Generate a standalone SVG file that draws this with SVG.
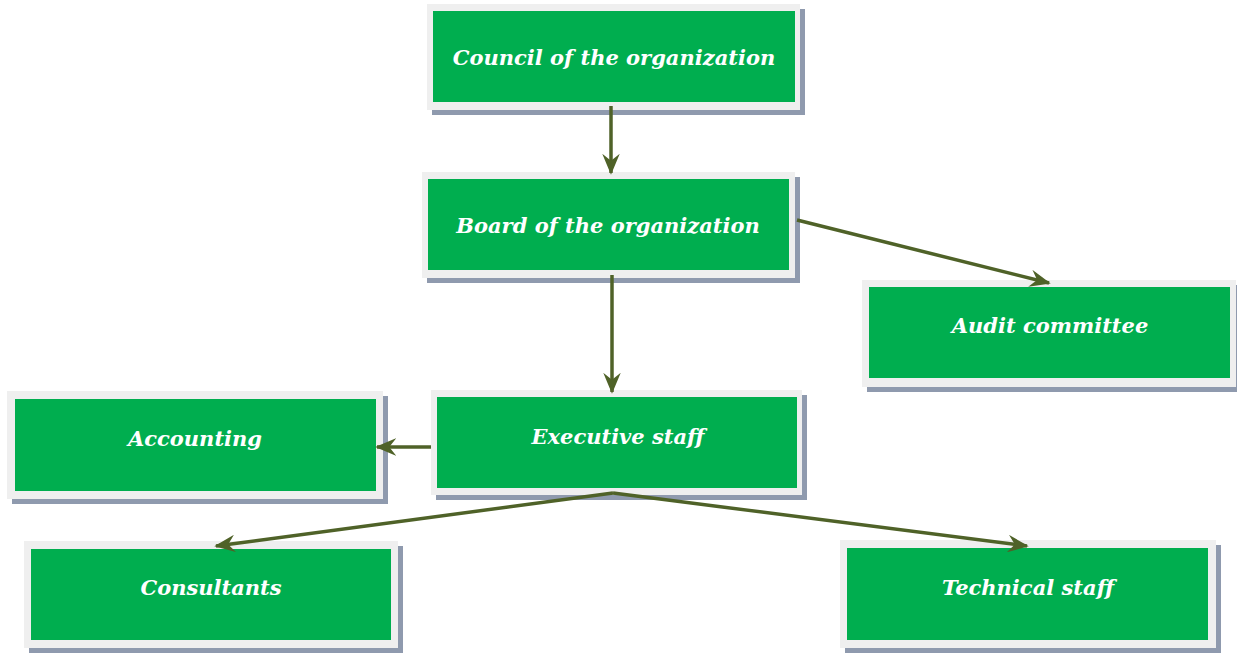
<svg xmlns="http://www.w3.org/2000/svg" width="1237" height="653" viewBox="0 0 1237 653">
  <style>
    .shadow { fill: #8f9aae; }
    .frame { fill: #efefef; }
    .box { fill: #00ae4f; }
    .label { font-family: "DejaVu Serif", "Liberation Serif", serif; font-weight: bold; font-style: italic; font-size: 21px; fill: #ffffff; text-anchor: middle; dominant-baseline: central; }
    .link { stroke: #4f6228; stroke-width: 3.5; fill: none; marker-end: url(#head); }
  </style>
  <defs>
    <marker id="head" viewBox="0 0 12 10" refX="11" refY="5" markerWidth="6" markerHeight="5" orient="auto" markerUnits="strokeWidth">
      <path d="M0,0 L12,5 L0,10 L4,5 z" fill="#4f6228"/>
    </marker>
  </defs>
  <rect width="1237" height="653" fill="#ffffff"/>

  <g id="council">
    <rect class="shadow" x="432" y="9" width="373" height="106"/>
    <rect class="frame" x="427" y="4" width="373" height="106"/>
    <rect class="box" x="433" y="11" width="362" height="91"/>
    <text class="label" x="614" y="57">Council of the organization</text>
  </g>

  <g id="board">
    <rect class="shadow" x="427" y="177" width="373" height="106"/>
    <rect class="frame" x="422" y="172" width="373" height="106"/>
    <rect class="box" x="428" y="179" width="361" height="91"/>
    <text class="label" x="608" y="225">Board of the organization</text>
  </g>

  <g id="audit">
    <rect class="shadow" x="867" y="285" width="374" height="107"/>
    <rect class="frame" x="862" y="280" width="374" height="107"/>
    <rect class="box" x="869" y="287" width="361" height="91"/>
    <text class="label" x="1050" y="325">Audit committee</text>
  </g>

  <g id="executive">
    <rect class="shadow" x="436" y="395" width="371" height="105"/>
    <rect class="frame" x="431" y="390" width="371" height="105"/>
    <rect class="box" x="437" y="397" width="360" height="91"/>
    <text class="label" x="618" y="436">Executive staff</text>
  </g>

  <g id="accounting">
    <rect class="shadow" x="12" y="396" width="376" height="108"/>
    <rect class="frame" x="7" y="391" width="376" height="108"/>
    <rect class="box" x="15" y="399" width="361" height="92"/>
    <text class="label" x="195" y="438">Accounting</text>
  </g>

  <g id="consultants">
    <rect class="shadow" x="29" y="546" width="374" height="107"/>
    <rect class="frame" x="24" y="541" width="374" height="107"/>
    <rect class="box" x="31" y="549" width="360" height="91"/>
    <text class="label" x="211" y="587">Consultants</text>
  </g>

  <g id="technical">
    <rect class="shadow" x="845" y="545" width="376" height="108"/>
    <rect class="frame" x="840" y="540" width="376" height="108"/>
    <rect class="box" x="847" y="548" width="361" height="92"/>
    <text class="label" x="1028" y="587">Technical staff</text>
  </g>

  <g id="connectors">
    <line class="link" x1="611" y1="106" x2="611" y2="173"/>
    <line class="link" x1="612" y1="275" x2="612" y2="392"/>
    <line class="link" x1="797" y1="220" x2="1049" y2="283"/>
    <line class="link" x1="431" y1="447" x2="377" y2="447"/>
    <line class="link" x1="613" y1="493" x2="216" y2="546"/>
    <line class="link" x1="613" y1="493" x2="1027" y2="546"/>
  </g>
</svg>
